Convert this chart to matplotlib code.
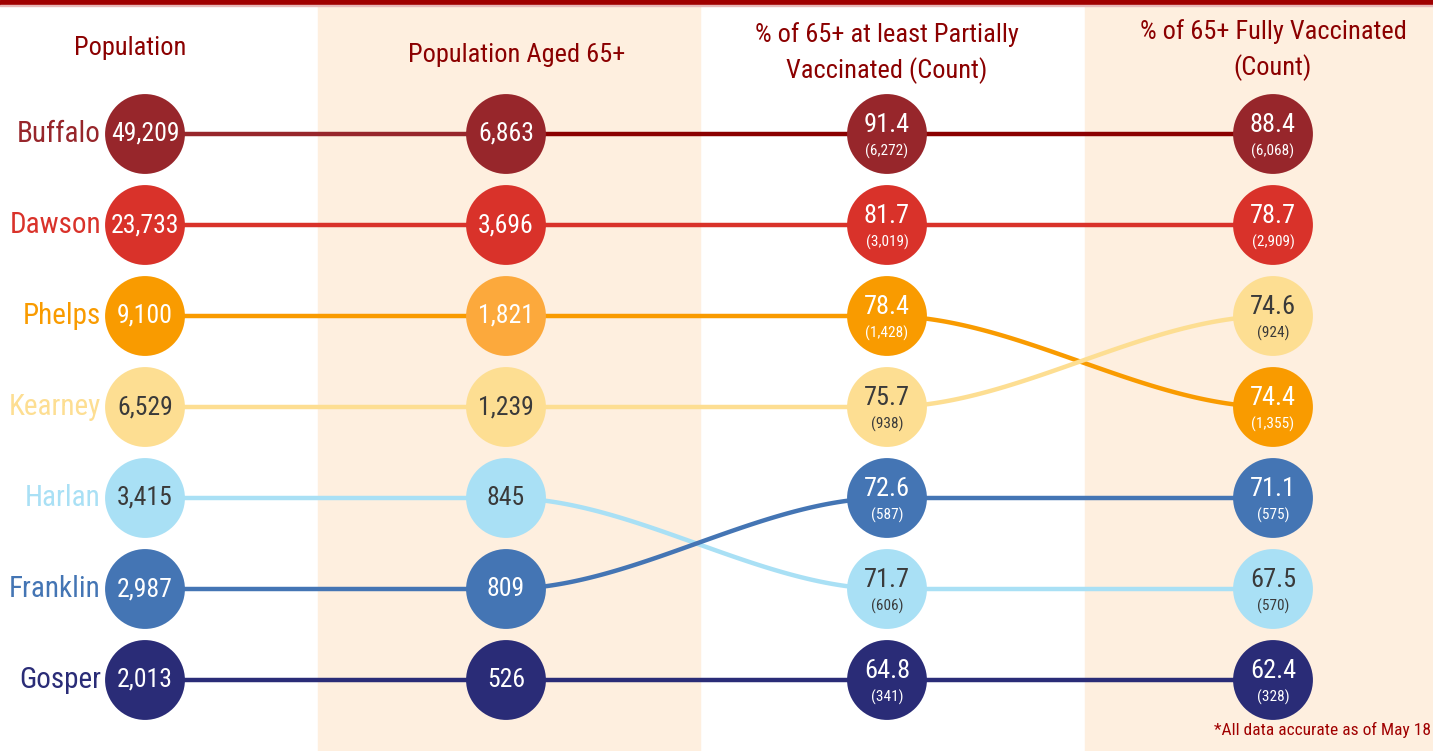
import numpy as np
import matplotlib
matplotlib.use('Agg')
import matplotlib.pyplot as plt
from matplotlib import font_manager

# pick a narrow font if one is around
font = 'DejaVu Sans'
for f in ['Liberation Sans Narrow', 'Roboto Condensed', 'DejaVu Sans Condensed']:
    try:
        font_manager.findfont(f, fallback_to_default=False)
        font = f
        break
    except ValueError:
        pass
plt.rcParams['font.family'] = [font, 'DejaVu Sans']

# data
counties = ['Buffalo', 'Dawson', 'Phelps', 'Kearney', 'Harlan', 'Franklin', 'Gosper']
population = [49209, 23733, 9100, 6529, 3415, 2987, 2013]
aged_65 = [6863, 3696, 1821, 1239, 845, 809, 526]
partial_pct = [91.4, 81.7, 78.4, 75.7, 71.7, 72.6, 64.8]
partial_cnt = [6272, 3019, 1428, 938, 606, 587, 341]
full_pct = [88.4, 78.7, 74.4, 74.6, 67.5, 71.1, 62.4]
full_cnt = [6068, 2909, 1355, 924, 570, 575, 328]
headers = ['Population', 'Population Aged 65+',
           '% of 65+ at least Partially\nVaccinated (Count)',
           '% of 65+ Fully Vaccinated\n(Count)']

colors = ['#97262B', '#D9322A', '#F99B00', '#FDDE92', '#A9E0F5', '#4475B4', '#2A2C77']
text_colors = ['white', 'white', 'white', '#3a3a3a', '#3a3a3a', 'white', 'white']
dark_red = '#8B0000'

# layout (pixels)
W, H = 1433, 751
col_x = [145, 506, 887, 1273]
row_y0, row_step = 134, 91
circ_s = 57.5 ** 2

columns = [population, aged_65, partial_pct, full_pct]
ranks = []
for vals in columns:
    order = np.argsort(-np.array(vals), kind='stable')
    r = np.empty(len(vals), dtype=int)
    r[order] = np.arange(len(vals))
    ranks.append(r)

def ypos(r):
    return row_y0 + row_step * r

fig = plt.figure(figsize=(W / 100, H / 100), dpi=100)
ax = fig.add_axes([0, 0, 1, 1])
ax.set_xlim(0, W)
ax.set_ylim(H, 0)
ax.axis('off')

ax.axvspan(318, 700, color='#FEEFDF', zorder=0)
ax.axvspan(1085, W, color='#FEEFDF', zorder=0)
ax.axhspan(0, 4.5, color='#A00000', zorder=5)
ax.axhspan(4.5, 6, color='#E8B8B8', zorder=5)

# connecting lines
t = np.linspace(0, 1, 100)
s = 3 * t ** 2 - 2 * t ** 3
for i in range(len(counties)):
    for c in range(3):
        x0, x1 = col_x[c], col_x[c + 1]
        y0, y1 = ypos(ranks[c][i]), ypos(ranks[c + 1][i])
        lc = colors[i]
        if i == 0 and c > 0:
            lc = dark_red
        ax.plot(x0 + (x1 - x0) * t, y0 + (y1 - y0) * s, color=lc, lw=3.2,
                solid_capstyle='butt', zorder=2)

# circles and labels
for c, vals in enumerate(columns):
    for i in range(len(counties)):
        x, y = col_x[c], ypos(ranks[c][i])
        fc = colors[i]
        if i == 2 and c == 1:
            fc = '#FCA93C'
        ax.scatter([x], [y], s=circ_s, color=fc, edgecolors='none', zorder=3)
        tc = text_colors[i]
        if c < 2:
            ax.text(x, y, f'{vals[i]:,}', ha='center', va='center', color=tc,
                    fontsize=18.5, zorder=4)
        else:
            cnt = partial_cnt if c == 2 else full_cnt
            ax.text(x, y - 9, f'{vals[i]:.1f}', ha='center', va='center', color=tc,
                    fontsize=19, zorder=4)
            ax.text(x, y + 17, f'({cnt[i]:,})', ha='center', va='center', color=tc,
                    fontsize=11, zorder=4)

for i, name in enumerate(counties):
    ax.text(101, ypos(ranks[0][i]), name, ha='right', va='center', color=colors[i],
            fontsize=21, zorder=4)

header_y = [48, 55, 53, 50]
header_x = [130, 517, 887, 1273]
for hx, hy, h in zip(header_x, header_y, headers):
    ax.text(hx, hy, h, ha='center', va='center', color=dark_red, fontsize=19,
            linespacing=1.45, zorder=4)

ax.text(1431, 730, '*All data accurate as of May 18', ha='right', va='center',
        color='#A00000', fontsize=12.5, zorder=4)

fig.savefig('out.png', dpi=100)
